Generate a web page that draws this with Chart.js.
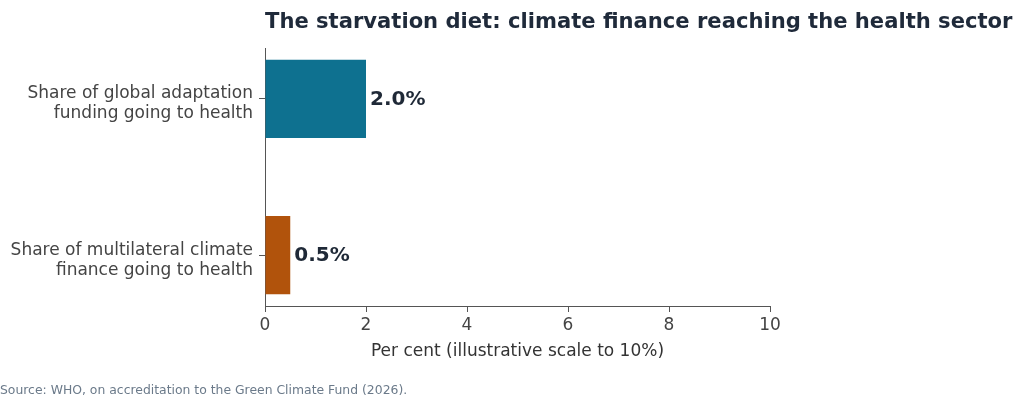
<!DOCTYPE html>
<html>
<head>
<meta charset="utf-8">
<script src="https://cdn.jsdelivr.net/npm/chart.js@4/dist/chart.umd.min.js"></script>
<style>
    html, body { margin: 0; padding: 0; background: #ffffff; }
    canvas { display: block; }
</style>
</head>
<body>
<canvas id="myChart" width="1024" height="407"></canvas>
<script>
"use strict";

const categories = [
    ['Share of global adaptation', 'funding going to health'],
    ['Share of multilateral climate', 'finance going to health'],
];
const shares = [2.0, 0.5];
const shareLabels = ['2.0%', '0.5%'];
const xTicks = [0, 2, 4, 6, 8, 10];
const barColors = ['#0e7190', '#b1530c'];

const titleText = 'The starvation diet: climate finance reaching the health sector';
const xTitle = 'Per cent (illustrative scale to 10%)';
const sourceText = 'Source: WHO, on accreditation to the Green Climate Fund (2026).';

const fontFamily = '"DejaVu Sans", sans-serif';
const axisColor = '#555555';


// bar value labels, title and source note
const textPlugin = {
    id: 'textPlugin',
    afterDatasetsDraw(chart) {
        const ctx = chart.ctx;
        ctx.save();
        ctx.font = 'bold 20px ' + fontFamily;
        ctx.fillStyle = '#1f2937';
        ctx.textAlign = 'left';
        ctx.textBaseline = 'middle';
        chart.getDatasetMeta(0).data.forEach((bar, i) => {
            ctx.fillText(shareLabels[i], bar.x + 4, bar.y + 1);
        });
        ctx.restore();
    },
    afterDraw(chart) {
        const ctx = chart.ctx;
        ctx.save();
        ctx.textAlign = 'left';
        ctx.textBaseline = 'alphabetic';
        ctx.font = 'bold 21.1px ' + fontFamily;
        ctx.fillStyle = '#1f2a3a';
        ctx.fillText(titleText, chart.chartArea.left, 28);
        ctx.font = '12.4px ' + fontFamily;
        ctx.fillStyle = '#6b7a8a';
        ctx.fillText(sourceText, 0, 394);
        ctx.restore();
    }
};

function createConfig() {
    return {
        type: 'bar',
        data: {
            datasets: [{
                data: shares.map((v, i) => ({x: v, y: i})),
                backgroundColor: barColors,
                borderWidth: 0,
                barPercentage: 0.5,
                categoryPercentage: 1.0,
            }]
        },
        options: {
            indexAxis: 'y',
            responsive: false,
            animation: false,
            devicePixelRatio: 1,
            layout: {
                padding: {left: 0, top: 48, right: 254, bottom: 0}
            },
            plugins: {
                legend: {display: false},
                title: {display: false},
                tooltip: {enabled: false},
            },
            scales: {
                x: {
                    type: 'linear',
                    min: 0,
                    max: 10,
                    afterBuildTicks(scale) {
                        scale.ticks = xTicks.map(value => ({value}));
                    },
                    afterFit(scale) {
                        scale.height = 101;
                    },
                    grid: {
                        drawOnChartArea: false,
                        drawTicks: true,
                        tickLength: 6,
                        color: axisColor,
                    },
                    border: {display: true, color: axisColor, width: 1},
                    ticks: {
                        color: '#444444',
                        padding: 3,
                        font: {family: fontFamily, size: 17},
                    },
                    title: {
                        display: true,
                        text: xTitle,
                        color: '#333333',
                        font: {family: fontFamily, size: 17},
                        padding: {top: 0, bottom: 45},
                    }
                },
                y: {
                    type: 'linear',
                    reverse: true,
                    offset: false,
                    min: -0.325,
                    max: 1.325,
                    afterBuildTicks(scale) {
                        scale.ticks = categories.map((c, i) => ({value: i}));
                    },
                    afterFit(scale) {
                        scale.width = 265;
                    },
                    grid: {
                        offset: false,
                        drawOnChartArea: false,
                        drawTicks: true,
                        tickLength: 6,
                        color: axisColor,
                    },
                    border: {display: true, color: axisColor, width: 1},
                    ticks: {
                        color: '#444444',
                        padding: 6,
                        labelOffset: 5,
                        font: {family: fontFamily, size: 17, lineHeight: 1.18},
                        callback: value => categories[value],
                    }
                }
            }
        },
        plugins: [textPlugin]
    };
}

new Chart(document.getElementById('myChart'), createConfig());
</script>
</body>
</html>
